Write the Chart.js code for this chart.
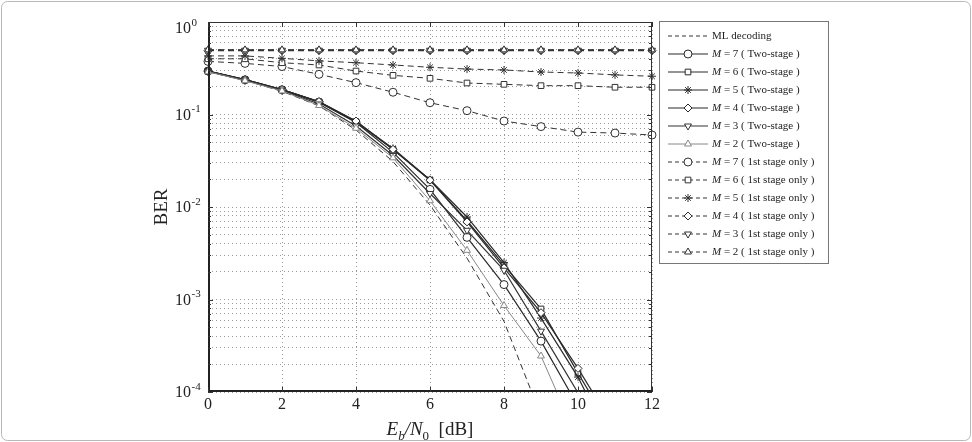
<!DOCTYPE html>
<html>
<head>
<meta charset="utf-8">
<script src="https://cdn.jsdelivr.net/npm/chart.js@4.4.0/dist/chart.umd.min.js"></script>
<style>
    html, body { margin: 0; padding: 0; background: #fff; }
    #wrap { position: relative; width: 972px; height: 442px; }
</style>
</head>
<body>
<div id="wrap"><canvas id="ber-chart" width="972" height="442"></canvas></div>
<script>
// Eb/N0 points (dB)
const ebN0 = [0, 1, 2, 3, 4, 5, 6, 7, 8, 9, 10, 11, 12];
const xTicks = [0, 2, 4, 6, 8, 10, 12];
const yDecades = [1, 0.1, 0.01, 0.001, 0.0001];
const yExponents = ['0', '-1', '-2', '-3', '-4'];

const mlDecoding = [0.29, 0.234, 0.178, 0.124, 0.068, 0.031, 0.0105, 0.0028, 0.00058, 0.000055, null, null, null];

// two-stage
const twoStageM7 = [0.295, 0.237, 0.185, 0.136, 0.082, 0.039, 0.0155, 0.0047, 0.00145, 0.000355, 0.00007, null, null];
const twoStageM6 = [0.295, 0.238, 0.186, 0.137, 0.083, 0.042, 0.0196, 0.0071, 0.00235, 0.00079, 0.00016, 0.000034, null];
const twoStageM5 = [0.295, 0.238, 0.186, 0.137, 0.084, 0.043, 0.0197, 0.0078, 0.0025, 0.00063, 0.000145, 0.000023, null];
const twoStageM4 = [0.295, 0.238, 0.186, 0.138, 0.085, 0.042, 0.0195, 0.0069, 0.0022, 0.00072, 0.00018, 0.00004, null];
const twoStageM3 = [0.292, 0.234, 0.182, 0.13, 0.075, 0.036, 0.014, 0.0056, 0.00207, 0.000455, 0.000098, null, null];
const twoStageM2 = [0.29, 0.232, 0.18, 0.125, 0.071, 0.034, 0.0117, 0.0034, 0.00086, 0.000245, 0.00003, null, null];

// 1st stage only
const firstStageM7 = [0.375, 0.357, 0.33, 0.272, 0.221, 0.174, 0.134, 0.110, 0.085, 0.074, 0.0645, 0.063, 0.060];
const firstStageM6 = [0.40, 0.40, 0.363, 0.343, 0.295, 0.265, 0.246, 0.219, 0.212, 0.205, 0.205, 0.197, 0.197];
const firstStageM5 = [0.43, 0.43, 0.405, 0.38, 0.363, 0.343, 0.324, 0.31, 0.303, 0.288, 0.281, 0.268, 0.259];
const firstStageM4 = [0.49, 0.49, 0.49, 0.49, 0.49, 0.49, 0.49, 0.49, 0.49, 0.49, 0.49, 0.49, 0.49];
const firstStageM3 = [0.495, 0.495, 0.495, 0.495, 0.495, 0.495, 0.495, 0.495, 0.495, 0.495, 0.495, 0.495, 0.495];
const firstStageM2 = [0.5, 0.5, 0.5, 0.5, 0.5, 0.5, 0.5, 0.5, 0.5, 0.5, 0.5, 0.5, 0.5];

const serif = '"Liberation Serif", "DejaVu Serif", serif';
const ink = '#222';

function toPoints(arr) {
    return ebN0.map((x, i) => ({ x: x, y: arr[i] }));
}

function series(label, arr, style, dashed, color, width, rotation) {
    return {
        label: label,
        data: toPoints(arr),
        borderColor: color,
        borderWidth: width,
        borderDash: dashed ? [6, 4] : [],
        pointStyle: style || false,
        pointRadius: style ? 4 : 0,
        pointRotation: rotation || 0,
        pointBackgroundColor: '#fff',
        pointBorderColor: color,
        pointBorderWidth: 1,
        tension: 0,
        fill: false,
        spanGaps: false,
        clip: { left: 6, top: 6, right: 6, bottom: 0 }
    };
}

const datasets = [
    series('ML decoding', mlDecoding, null, true, '#333', 1),
    series('M = 7 ( Two-stage )', twoStageM7, 'circle', false, '#2a2a2a', 1.2),
    series('M = 6 ( Two-stage )', twoStageM6, 'rect', false, '#2a2a2a', 1.2),
    series('M = 5 ( Two-stage )', twoStageM5, 'star', false, '#2a2a2a', 1.2),
    series('M = 4 ( Two-stage )', twoStageM4, 'rectRot', false, '#2a2a2a', 1.2),
    series('M = 3 ( Two-stage )', twoStageM3, 'triangle', false, '#333', 1.2, 180),
    series('M = 2 ( Two-stage )', twoStageM2, 'triangle', false, '#888', 1),
    series('M = 7 ( 1st stage only )', firstStageM7, 'circle', true, '#333', 1),
    series('M = 6 ( 1st stage only )', firstStageM6, 'rect', true, '#333', 1),
    series('M = 5 ( 1st stage only )', firstStageM5, 'star', true, '#333', 1),
    series('M = 4 ( 1st stage only )', firstStageM4, 'rectRot', true, '#333', 1.4),
    series('M = 3 ( 1st stage only )', firstStageM3, 'triangle', true, '#333', 1.4, 180),
    series('M = 2 ( 1st stage only )', firstStageM2, 'triangle', true, '#333', 1.4)
];
// later curves drawn on top, like the plot
datasets.forEach((ds, i) => { ds.order = -i; });

function marker(ctx, ds, x, y) {
    if (!ds.pointStyle) return;
    ctx.save();
    ctx.setLineDash([]);
    ctx.fillStyle = '#fff';
    ctx.strokeStyle = ds.borderColor;
    ctx.lineWidth = 1;
    if (Chart.helpers && Chart.helpers.drawPoint) {
        Chart.helpers.drawPoint(ctx, { pointStyle: ds.pointStyle, rotation: ds.pointRotation, radius: 4, borderWidth: 1 }, x, y);
    } else {
        ctx.beginPath();
        ctx.arc(x, y, 4, 0, Math.PI * 2);
        ctx.fill();
        ctx.stroke();
    }
    ctx.restore();
}

const decorPlugin = {
    id: 'decor',
    beforeDraw(chart) {
        const ctx = chart.ctx;
        ctx.save();
        ctx.fillStyle = '#fff';
        ctx.fillRect(0, 0, chart.width, chart.height);
        ctx.strokeStyle = '#b8b8b8';
        ctx.lineWidth = 1;
        ctx.beginPath();
        ctx.roundRect(1.5, 1.5, chart.width - 3, chart.height - 3, 6);
        ctx.stroke();
        ctx.restore();
    },
    afterDraw(chart) {
        const ctx = chart.ctx;
        const area = chart.chartArea;
        const xs = chart.scales.x;
        const ys = chart.scales.y;
        ctx.save();

        // frame
        ctx.strokeStyle = '#333';
        ctx.lineWidth = 1;
        ctx.strokeRect(area.left + 0.5, area.top + 0.5, area.right - area.left - 1, area.bottom - area.top - 1);
        ctx.strokeStyle = ink;
        ctx.lineWidth = 2;
        ctx.beginPath();
        ctx.moveTo(area.left + 1, area.top);
        ctx.lineTo(area.left + 1, area.bottom - 1);
        ctx.lineTo(area.right, area.bottom - 1);
        ctx.stroke();

        // inward tick marks
        ctx.lineWidth = 1;
        ctx.strokeStyle = '#333';
        ys.ticks.forEach(t => {
            const y = Math.round(ys.getPixelForValue(t.value)) + 0.5;
            const len = t.major ? 5 : 3;
            ctx.beginPath();
            ctx.moveTo(area.left, y); ctx.lineTo(area.left + len, y);
            ctx.moveTo(area.right, y); ctx.lineTo(area.right - len, y);
            ctx.stroke();
        });
        xTicks.forEach(v => {
            const x = Math.round(xs.getPixelForValue(v)) + 0.5;
            ctx.beginPath();
            ctx.moveTo(x, area.top); ctx.lineTo(x, area.top + 5);
            ctx.moveTo(x, area.bottom); ctx.lineTo(x, area.bottom - 5);
            ctx.stroke();
        });

        // y tick labels 10^k
        ctx.fillStyle = ink;
        ctx.textBaseline = 'middle';
        ctx.textAlign = 'left';
        yDecades.forEach((v, i) => {
            const y = ys.getPixelForValue(v);
            const cy = Math.max(y + 1, area.top + 7);
            ctx.font = '16px ' + serif;
            ctx.fillText('10', 175, cy);
            const w = ctx.measureText('10').width;
            ctx.font = '11px ' + serif;
            ctx.fillText(yExponents[i], 175 + w + 0.5, cy - 6);
        });

        // y title
        ctx.save();
        ctx.translate(162, (area.top + area.bottom) / 2);
        ctx.rotate(-Math.PI / 2);
        ctx.textAlign = 'center';
        ctx.textBaseline = 'middle';
        ctx.font = '19px ' + serif;
        ctx.fillText('BER', 0, 0);
        ctx.restore();

        // x title: E_b/N_0 [dB]
        const parts = [
            { t: 'E', f: 'italic 19px ', dy: 0 },
            { t: 'b', f: 'italic 13px ', dy: 5 },
            { t: '/', f: 'italic 19px ', dy: 0 },
            { t: 'N', f: 'italic 19px ', dy: 0 },
            { t: '0', f: '13px ', dy: 5 },
            { t: '  [dB]', f: '19px ', dy: 0 }
        ];
        let total = 0;
        parts.forEach(p => { ctx.font = p.f + serif; p.w = ctx.measureText(p.t).width; total += p.w; });
        let px = (area.left + area.right) / 2 - total / 2;
        ctx.textAlign = 'left';
        ctx.textBaseline = 'alphabetic';
        parts.forEach(p => {
            ctx.font = p.f + serif;
            ctx.fillText(p.t, px, 435 + p.dy);
            px += p.w;
        });

        // legend
        const lx = 659.5, ly = 21.5, lw = 169, lh = 242;
        ctx.fillStyle = '#fff';
        ctx.fillRect(lx, ly, lw, lh);
        ctx.strokeStyle = '#777';
        ctx.lineWidth = 1;
        ctx.strokeRect(lx, ly, lw, lh);
        chart.data.datasets.forEach((ds, i) => {
            const y = 36 + i * 18.0;
            ctx.save();
            ctx.strokeStyle = ds.borderColor;
            ctx.lineWidth = Math.min(ds.borderWidth, 1.2);
            ctx.setLineDash(ds.borderDash.length ? [4, 3] : []);
            ctx.beginPath();
            ctx.moveTo(668, y);
            ctx.lineTo(708, y);
            ctx.stroke();
            ctx.restore();
            marker(ctx, ds, 688, y);
            ctx.fillStyle = ink;
            ctx.textBaseline = 'middle';
            ctx.textAlign = 'left';
            let tx = 712;
            let text = ds.label;
            if (text.startsWith('M ')) {
                ctx.font = 'italic 11px ' + serif;
                ctx.fillText('M', tx, y);
                tx += ctx.measureText('M').width;
                text = text.slice(1);
            }
            ctx.font = '11px ' + serif;
            ctx.fillText(text, tx, y);
        });

        ctx.restore();
    }
};

const ctx = document.getElementById('ber-chart').getContext('2d');
new Chart(ctx, {
    type: 'line',
    data: { datasets: datasets },
    options: {
        responsive: false,
        animation: false,
        devicePixelRatio: 1,
        layout: { padding: { left: 0, top: 22, right: 320, bottom: 0 } },
        plugins: {
            legend: { display: false },
            tooltip: { enabled: false }
        },
        scales: {
            x: {
                type: 'linear',
                min: 0,
                max: 12,
                afterFit: s => { s.height = 50; },
                afterBuildTicks: s => { s.ticks = xTicks.map(v => ({ value: v })); },
                ticks: {
                    color: ink,
                    font: { family: serif, size: 16 },
                    padding: 3,
                    maxRotation: 0
                },
                grid: { color: '#9a9a9a', lineWidth: 1, drawTicks: false },
                border: { display: false, dash: [1, 3] }
            },
            y: {
                type: 'logarithmic',
                min: 0.0001,
                max: 1,
                afterFit: s => { s.width = 208; },
                afterBuildTicks: s => {
                    const ticks = [];
                    yDecades.forEach(d => {
                        ticks.push({ value: d, major: true });
                        if (d < 1) {
                            for (let k = 2; k <= 9; k++) ticks.push({ value: d * k, major: false });
                        }
                    });
                    s.ticks = ticks.sort((a, b) => a.value - b.value);
                },
                ticks: { display: false },
                grid: { color: '#9a9a9a', lineWidth: 1, drawTicks: false },
                border: { display: false, dash: [1, 3] }
            }
        }
    },
    plugins: [decorPlugin]
});
</script>
</body>
</html>
